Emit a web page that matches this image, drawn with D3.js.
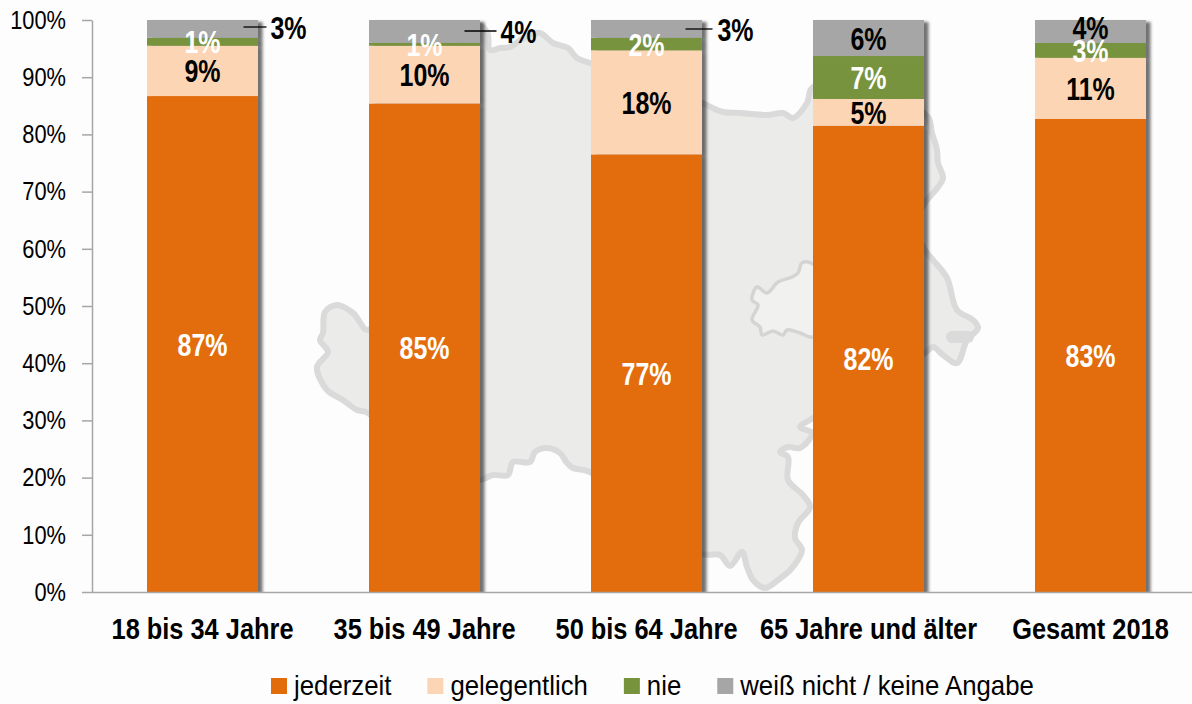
<!DOCTYPE html>
<html>
<head>
<meta charset="utf-8">
<script src="https://cdn.jsdelivr.net/npm/d3@7"></script>
<style>
  html, body { margin: 0; padding: 0; background: #fdfdfd; }
  svg { display: block; }
  text { font-family: "Liberation Sans", Arial, sans-serif; }
</style>
</head>
<body>
<svg id="chart" width="1192" height="704"></svg>
<script>
// data
const categories = ["18 bis 34 Jahre", "35 bis 49 Jahre", "50 bis 64 Jahre", "65 Jahre und älter", "Gesamt 2018"];
const seriesNames = ["jederzeit", "gelegentlich", "nie", "weiß nicht / keine Angabe"];
const jederzeit = [86.7, 85.4, 76.5, 81.5, 82.7];
const gelegentlich = [8.8, 10.1, 18.2, 4.7, 10.7];
const nie = [1.4, 0.5, 2.2, 7.5, 2.6];
const weissNicht = [3.1, 4.0, 3.1, 6.3, 4.0];
const jederzeitLabels = ["87%", "85%", "77%", "82%", "83%"];
const gelegentlichLabels = ["9%", "10%", "18%", "5%", "11%"];
const nieLabels = ["1%", "1%", "2%", "7%", "3%"];
const weissNichtLabels = ["3%", "4%", "3%", "6%", "4%"];
const yTicks = [0, 10, 20, 30, 40, 50, 60, 70, 80, 90, 100];

const colors = ["#e36c0a", "#fcd5b5", "#77933c", "#a6a6a6"];
const labelColors = ["#fff", "#000", "#fff", "#000"];

// backdrop map (decoration, pixel coordinates)
const mapOutline = [[368,330],[353,313],[337,305],[325,312],[323,333],[320,340],[328,352],[317,367],[327,390],[343,400],[357,410],[368,413],
  [420,470],[480,480],[493,475],[508,475],[513,462],[530,462],[535,452],[547,448],[560,453],[567,463],[573,468],[590,472],
  [650,520],[702,554],[720,555],[730,566],[742,552],[747,567],[753,580],[765,588],[778,580],[792,568],[802,550],[795,538],[798,523],[810,507],
  [803,495],[788,480],[788,457],[780,452],[788,447],[800,448],[812,433],[800,427],[813,418],
  [870,380],[925,353],[933,347],[943,355],[957,363],[967,340],[978,328],[973,320],[957,310],[947,278],[933,260],[925,250],
  [915,225],[925,203],[938,187],[943,178],[938,163],[937,150],[932,133],[928,117],[900,100],
  [813,87],[807,103],[793,118],[783,113],[767,115],[740,113],[723,112],[702,103],
  [640,80],[590,63],[577,58],[568,48],[553,43],[540,33],[525,37],[510,47],[500,48],[490,50],[487,32],[475,24],
  [430,120],[400,250]];
const mapHole = [[813,337],[800,333],[787,330],[783,335],[773,331],[762,335],[760,327],[752,320],[758,305],[752,300],[757,287],[767,293],
  [778,282],[792,277],[798,273],[802,263],[813,264],[840,300]];
const mapBlob = [[952,337],[968,337]];

const svg = d3.select("#chart");
const y0 = 592, y1 = 20, left = 92;

const defs = svg.append("defs");
defs.append("filter").attr("id", "soft").append("feGaussianBlur").attr("stdDeviation", 0.7);
const shadow = defs.append("filter").attr("id", "barShadow")
  .attr("x", "-5%").attr("y", "-5%").attr("width", "115%").attr("height", "110%");
shadow.append("feDropShadow").attr("dx", 4.5).attr("dy", 2).attr("stdDeviation", 1.8)
  .attr("flood-color", "#000").attr("flood-opacity", 0.55);
defs.append("clipPath").attr("id", "plotClip").append("rect")
  .attr("x", 0).attr("y", 0).attr("width", 1192).attr("height", y0);

// map behind everything
const mapLine = d3.line().curve(d3.curveCatmullRomClosed.alpha(0.5));
const mapG = svg.append("g").attr("stroke-linejoin", "round").attr("stroke-linecap", "round").attr("filter", "url(#soft)");
mapG.append("path").attr("d", mapLine(mapOutline)).attr("fill", "#ebebea").attr("stroke", "#dadada").attr("stroke-width", 6);
mapG.append("path").attr("d", mapLine(mapHole)).attr("fill", "#f1f1f0").attr("stroke", "#d4d4d4").attr("stroke-width", 3.5);
mapG.append("path").attr("d", d3.line()(mapBlob)).attr("stroke", "#dadada").attr("stroke-width", 12);

const x = d3.scaleBand().domain(categories).range([left - 0.5, left + 1109.5]).paddingInner(0.5).paddingOuter(0.25);
const y = d3.scaleLinear().domain([0, 100]).range([y0, y1]);

// the original uses a narrow font, so squeeze the text horizontally
function condense(sel, k) {
  sel.each(function () {
    const w = this.getComputedTextLength();
    d3.select(this).attr("textLength", w * k).attr("lengthAdjust", "spacingAndGlyphs");
  });
}

const rows = categories.map((c, i) => ({
  category: c, jederzeit: jederzeit[i], gelegentlich: gelegentlich[i], nie: nie[i], weiss: weissNicht[i]
}));
const stack = d3.stack().keys(["jederzeit", "gelegentlich", "nie", "weiss"])(rows);
const labelSets = [jederzeitLabels, gelegentlichLabels, nieLabels, weissNichtLabels];

// bars, one shadowed group per category
const barGroups = svg.append("g").attr("clip-path", "url(#plotClip)")
  .selectAll("g").data(categories).enter().append("g").attr("filter", "url(#barShadow)");
barGroups.selectAll("rect").data((c, i) => stack.map((s, k) => ({ d: s[i], k: k, c: c }))).enter().append("rect")
  .attr("x", d => x(d.c))
  .attr("y", d => y(d.d[1]))
  .attr("width", x.bandwidth())
  .attr("height", d => y(d.d[0]) - y(d.d[1]))
  .attr("fill", d => colors[d.k]);

// axes
const yAxis = svg.append("g").attr("transform", "translate(" + left + ",0)")
  .call(d3.axisLeft(y).tickValues(yTicks).tickSize(10).tickSizeOuter(0).tickPadding(16).tickFormat(d => d + "%"));
const xAxis = svg.append("g").attr("transform", "translate(0," + y0 + ")")
  .call(d3.axisBottom(x).tickSize(0).tickPadding(26));
svg.selectAll(".domain, .tick line").attr("stroke", "#a6a6a6").attr("stroke-width", 1.5);
yAxis.attr("font-family", null);
xAxis.attr("font-family", null);
yAxis.selectAll("text").attr("font-size", 26).attr("fill", "#000").call(condense, 0.84);
xAxis.selectAll("text").attr("font-size", 29).attr("font-weight", "bold").attr("fill", "#000").call(condense, 0.875);

// labels inside the bars; the thin grey tops of the first three bars get a leader line instead
const outside = [{ i: 0, dx: 86, y: 27, from: 41, to: 64 }, { i: 1, dx: 94, y: 31, from: 40, to: 72 }, { i: 2, dx: 89, y: 29, from: 39, to: 66 }];
const labelData = [];
stack.forEach((s, k) => s.forEach((d, i) => {
  if (k === 3 && i < 3) return;
  labelData.push({ text: labelSets[k][i], x: x(categories[i]) + x.bandwidth() / 2, y: y((d[0] + d[1]) / 2) - (k === 3 && i === 4 ? 4 : 0), fill: labelColors[k] });
}));
svg.selectAll(".inLabel").data(labelData).enter().append("text")
  .attr("class", "inLabel")
  .text(d => d.text)
  .attr("x", d => d.x)
  .attr("y", d => d.y)
  .attr("dy", "0.36em")
  .attr("text-anchor", "middle")
  .attr("font-size", 32)
  .attr("font-weight", "bold")
  .attr("fill", d => d.fill)
  .call(condense, 0.78);

svg.selectAll(".leader").data(outside).enter().append("line")
  .attr("class", "leader")
  .attr("x1", d => x(categories[d.i]) + x.bandwidth() / 2 + d.from)
  .attr("x2", d => x(categories[d.i]) + x.bandwidth() / 2 + d.to)
  .attr("y1", d => d.y).attr("y2", d => d.y)
  .attr("stroke", "#000").attr("stroke-width", 1.3);
svg.selectAll(".outLabel").data(outside).enter().append("text")
  .attr("class", "outLabel")
  .text(d => weissNichtLabels[d.i])
  .attr("x", d => x(categories[d.i]) + x.bandwidth() / 2 + d.dx)
  .attr("y", d => d.y)
  .attr("dy", "0.36em")
  .attr("text-anchor", "middle")
  .attr("font-size", 32)
  .attr("font-weight", "bold")
  .attr("fill", "#000")
  .call(condense, 0.78);

// legend
let legendX = 271;
seriesNames.forEach(function (name, k) {
  svg.append("rect").attr("x", legendX).attr("y", 678).attr("width", 16).attr("height", 16).attr("fill", colors[k]);
  const t = svg.append("text").text(name)
    .attr("x", legendX + 23).attr("y", 695)
    .attr("font-size", 28).attr("fill", "#000");
  const w = t.node().getComputedTextLength() * 0.92;
  t.attr("textLength", w).attr("lengthAdjust", "spacingAndGlyphs");
  legendX += 23 + w + 36;
});
</script>
</body>
</html>
